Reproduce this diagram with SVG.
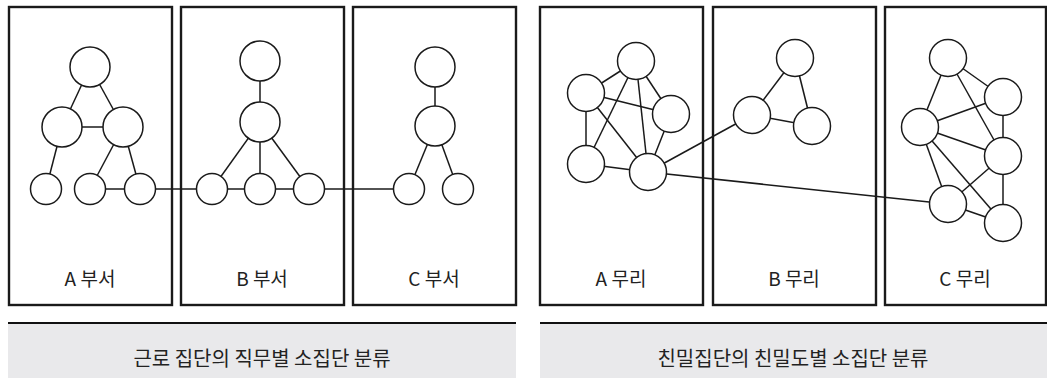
<svg xmlns="http://www.w3.org/2000/svg" width="1047" height="378" viewBox="0 0 1047 378">
  <style>
    .box { fill: none; stroke: #1a1a1a; stroke-width: 2.4; }
    .node { fill: #ffffff; stroke: #1a1a1a; stroke-width: 1.5; }
    .edge { stroke: #1a1a1a; stroke-width: 1.5; fill: none; }
    .label { font-family: "Noto Sans CJK KR", "Noto Sans", sans-serif; font-size: 19px; fill: #222222; text-anchor: middle; }
    .caption { font-family: "Noto Sans CJK KR", "Noto Sans", sans-serif; font-size: 20px; fill: #222222; text-anchor: middle; }
    .bar { fill: #e9e9eb; }
    .rule { stroke: #111111; stroke-width: 2.2; }
  </style>

  <rect width="1047" height="378" fill="#ffffff"/>

  <!-- department / group frames -->
  <g id="frames">
    <rect class="box" x="9" y="7" width="163" height="298"/>
    <rect class="box" x="181" y="7" width="163" height="298"/>
    <rect class="box" x="353" y="7" width="163" height="298"/>
    <rect class="box" x="540" y="7" width="163" height="298"/>
    <rect class="box" x="713" y="7" width="163" height="298"/>
    <rect class="box" x="885" y="7" width="161" height="298"/>
  </g>

  <!-- connectors -->
  <g id="connectors">
    <!-- A dept -->
    <line class="edge" x1="90" y1="67" x2="62" y2="127"/>
    <line class="edge" x1="90" y1="67" x2="123" y2="127"/>
    <line class="edge" x1="62" y1="127" x2="123" y2="127"/>
    <line class="edge" x1="62" y1="127" x2="46" y2="189"/>
    <line class="edge" x1="123" y1="127" x2="90" y2="189"/>
    <line class="edge" x1="123" y1="127" x2="140" y2="189"/>
    <line class="edge" x1="90" y1="189" x2="140" y2="189"/>
    <!-- A to B to C -->
    <line class="edge" x1="140" y1="189" x2="212" y2="189"/>
    <line class="edge" x1="309" y1="189" x2="409" y2="189"/>
    <!-- B dept -->
    <line class="edge" x1="260" y1="61" x2="260" y2="122"/>
    <line class="edge" x1="260" y1="122" x2="212" y2="189"/>
    <line class="edge" x1="260" y1="122" x2="260" y2="189"/>
    <line class="edge" x1="260" y1="122" x2="309" y2="189"/>
    <line class="edge" x1="212" y1="189" x2="309" y2="189"/>
    <!-- C dept -->
    <line class="edge" x1="435" y1="67" x2="435" y2="126"/>
    <line class="edge" x1="435" y1="126" x2="409" y2="189"/>
    <line class="edge" x1="435" y1="126" x2="458" y2="189"/>

    <!-- A group -->
    <line class="edge" x1="636" y1="61" x2="586" y2="93"/>
    <line class="edge" x1="636" y1="61" x2="671" y2="114"/>
    <line class="edge" x1="636" y1="61" x2="586" y2="164"/>
    <line class="edge" x1="636" y1="61" x2="648" y2="172"/>
    <line class="edge" x1="586" y1="93" x2="671" y2="114"/>
    <line class="edge" x1="586" y1="93" x2="586" y2="164"/>
    <line class="edge" x1="586" y1="93" x2="648" y2="172"/>
    <line class="edge" x1="671" y1="114" x2="648" y2="172"/>
    <line class="edge" x1="586" y1="164" x2="648" y2="172"/>
    <!-- links between groups -->
    <line class="edge" x1="648" y1="172" x2="752" y2="115"/>
    <line class="edge" x1="648" y1="172" x2="948" y2="204"/>
    <!-- B group -->
    <line class="edge" x1="752" y1="115" x2="795" y2="58"/>
    <line class="edge" x1="752" y1="115" x2="812" y2="126"/>
    <line class="edge" x1="795" y1="58" x2="812" y2="126"/>
    <!-- C group -->
    <line class="edge" x1="948" y1="58" x2="1003" y2="97"/>
    <line class="edge" x1="948" y1="58" x2="920" y2="127"/>
    <line class="edge" x1="948" y1="58" x2="1003" y2="156"/>
    <line class="edge" x1="920" y1="127" x2="1003" y2="97"/>
    <line class="edge" x1="1003" y1="97" x2="1003" y2="156"/>
    <line class="edge" x1="920" y1="127" x2="1003" y2="156"/>
    <line class="edge" x1="920" y1="127" x2="948" y2="204"/>
    <line class="edge" x1="920" y1="127" x2="1003" y2="223"/>
    <line class="edge" x1="1003" y1="156" x2="948" y2="204"/>
    <line class="edge" x1="1003" y1="156" x2="1003" y2="223"/>
    <line class="edge" x1="948" y1="204" x2="1003" y2="223"/>
  </g>

  <!-- A dept nodes -->
  <g id="dept-a">
    <circle class="node" cx="90" cy="67" r="20"/>
    <circle class="node" cx="62" cy="127" r="20"/>
    <circle class="node" cx="123" cy="127" r="20"/>
    <circle class="node" cx="46" cy="189" r="15.5"/>
    <circle class="node" cx="90" cy="189" r="15.5"/>
    <circle class="node" cx="140" cy="189" r="15.5"/>
    <text class="label" x="90" y="286">A 부서</text>
  </g>

  <!-- B dept nodes -->
  <g id="dept-b">
    <circle class="node" cx="260" cy="61" r="20"/>
    <circle class="node" cx="260" cy="122" r="20"/>
    <circle class="node" cx="212" cy="189" r="15.5"/>
    <circle class="node" cx="260" cy="189" r="15.5"/>
    <circle class="node" cx="309" cy="189" r="15.5"/>
    <text class="label" x="262" y="286">B 부서</text>
  </g>

  <!-- C dept nodes -->
  <g id="dept-c">
    <circle class="node" cx="435" cy="67" r="20"/>
    <circle class="node" cx="435" cy="126" r="20"/>
    <circle class="node" cx="409" cy="189" r="15.5"/>
    <circle class="node" cx="458" cy="189" r="15.5"/>
    <text class="label" x="434" y="286">C 부서</text>
  </g>

  <!-- A group nodes -->
  <g id="group-a">
    <circle class="node" cx="636" cy="61" r="18.5"/>
    <circle class="node" cx="586" cy="93" r="18.5"/>
    <circle class="node" cx="671" cy="114" r="18.5"/>
    <circle class="node" cx="586" cy="164" r="18.5"/>
    <circle class="node" cx="648" cy="172" r="18.5"/>
    <text class="label" x="621" y="286">A 무리</text>
  </g>

  <!-- B group nodes -->
  <g id="group-b">
    <circle class="node" cx="795" cy="58" r="18.5"/>
    <circle class="node" cx="752" cy="115" r="18.5"/>
    <circle class="node" cx="812" cy="126" r="18.5"/>
    <text class="label" x="794" y="286">B 무리</text>
  </g>

  <!-- C group nodes -->
  <g id="group-c">
    <circle class="node" cx="948" cy="58" r="18.5"/>
    <circle class="node" cx="1003" cy="97" r="18.5"/>
    <circle class="node" cx="920" cy="127" r="18.5"/>
    <circle class="node" cx="1003" cy="156" r="18.5"/>
    <circle class="node" cx="948" cy="204" r="18.5"/>
    <circle class="node" cx="1003" cy="223" r="18.5"/>
    <text class="label" x="965" y="286">C 무리</text>
  </g>

  <!-- captions -->
  <g id="caption-left">
    <rect class="bar" x="8" y="323" width="508" height="55"/>
    <line class="rule" x1="8" y1="323" x2="516" y2="323"/>
    <text class="caption" x="262" y="366">근로 집단의 직무별 소집단 분류</text>
  </g>
  <g id="caption-right">
    <rect class="bar" x="540" y="323" width="507" height="55"/>
    <line class="rule" x1="540" y1="323" x2="1047" y2="323"/>
    <text class="caption" x="793" y="366">친밀집단의 친밀도별 소집단 분류</text>
  </g>
</svg>
